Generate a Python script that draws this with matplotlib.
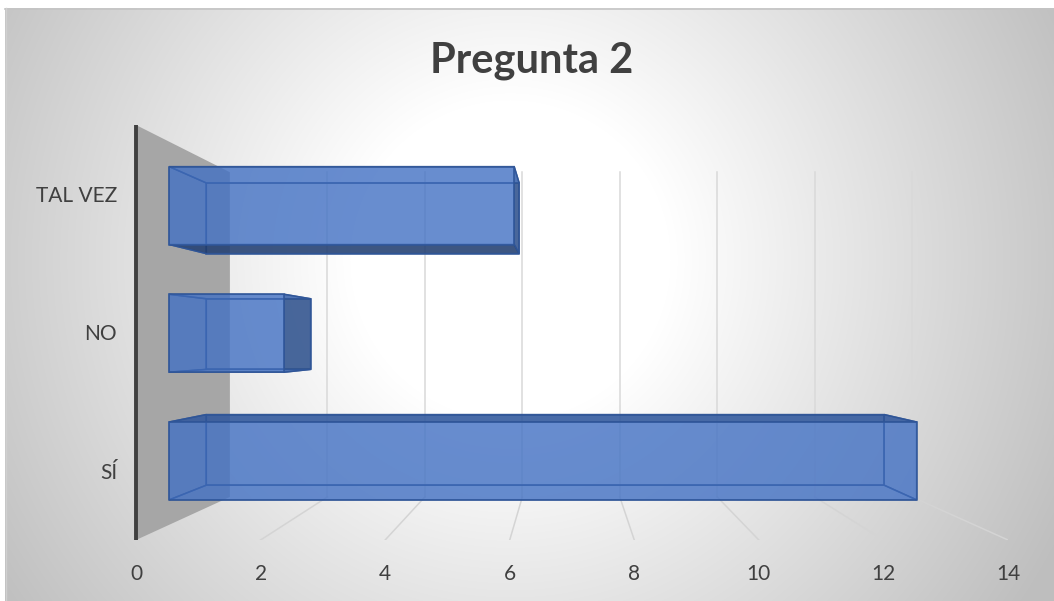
import numpy as np
import matplotlib.pyplot as plt
from matplotlib.patches import Polygon
import matplotlib.colors as mcolors

# ----------------------------------------------------------------
# chart data

title = 'Pregunta 2'
categories = ['SÍ', 'NO', 'TAL VEZ']
values = [13, 2, 6]
x_ticks = [0, 2, 4, 6, 8, 10, 12, 14]

# ----------------------------------------------------------------
# fake excel "3-D bar" look: front plane is the axes, depth goes back
# towards a vanishing point (in data units)

depth_c = 0.278
van_x, van_y = 6.93, 1.43
bar_h = 0.61
bar_z = (0.3, 0.7)

W, H = 1054, 601

plt.rcParams['font.family'] = ['Lato', 'DejaVu Sans']

def proj(x, y, z):
        k = 1.0 / (1.0 + depth_c * z)
        return (van_x + (x - van_x) * k, van_y + (y - van_y) * k)

fig = plt.figure(figsize=(W / 100, H / 100), dpi=100)

# background radial gradient
bg = fig.add_axes([0, 0, 1, 1])
yy, xx = np.mgrid[0:H, 0:W]
d = np.hypot(xx - 510, yy - 260)
g = (255 - 65 * np.clip((d - 160) / 460, 0, 1)) / 255.0
g[:8, :] = 1.0
g[:, :5] = 1.0
bg.imshow(np.dstack([g, g, g]), extent=(0, W, H, 0), interpolation='bilinear')
bg.plot([5, W], [8.5, 8.5], color='#c4c4c4', lw=1.2)
bg.plot([5.5, 5.5], [8, H], color='#d0d0d0', lw=1.0)
bg.set_xlim(0, W)
bg.set_ylim(H, 0)
bg.axis('off')

# main axes = front plane
ax = fig.add_axes([136 / W, (H - 540) / H, 872 / W, 415 / H])
ax.set_facecolor('none')
ax.set_xlim(0, 14)
ax.set_ylim(0, 3)
for s in ax.spines.values():
        s.set_visible(False)

ncat = len(categories)

# side wall
wall = [proj(0, 0, 0), proj(0, ncat, 0), proj(0, ncat, 1), proj(0, 0, 1)]
ax.add_patch(Polygon(wall, closed=True, facecolor='#a6a6a6', edgecolor='none', zorder=1))

# gridlines on back wall and floor
for v in x_ticks:
        if v == 0:
                continue
        p0, p1 = proj(v, 0, 1), proj(v, ncat, 1)
        ax.plot([p0[0], p1[0]], [p0[1], p1[1]], color='#d9d9d9', lw=1.1, zorder=2)
        f0 = proj(v, 0, 0)
        ax.plot([f0[0], p0[0]], [f0[1], p0[1]], color='#d4d4d4', lw=1.1, zorder=2)

# axis line
ax.plot([0, 0], [0, ncat], color='#404040', lw=2.8, zorder=3, solid_capstyle='butt', clip_on=False)

# bars (only faces turned to the viewer get the darker shade)
face_alpha = 0.56
side_alpha = 0.75
base = '#4472c4'
edge_col = mcolors.to_rgba('#2f5597', 0.9)
for i, v in enumerate(values):
        y0 = i + 0.5 - bar_h / 2
        y1 = i + 0.5 + bar_h / 2
        z0, z1 = bar_z
        right = ('#2f4f85', side_alpha) if v < van_x else (base, face_alpha)
        bottom = ('#1f3864', side_alpha) if y0 > van_y else (base, face_alpha)
        top = ('#2f5597', side_alpha) if y1 < van_y else (base, face_alpha)
        faces = [
                ((base, face_alpha), [(0, y0, z1), (v, y0, z1), (v, y1, z1), (0, y1, z1)]),   # back
                ((base, face_alpha), [(0, y0, z0), (0, y1, z0), (0, y1, z1), (0, y0, z1)]),   # left
                (right, [(v, y0, z0), (v, y1, z0), (v, y1, z1), (v, y0, z1)]),                # right
                (bottom, [(0, y0, z0), (v, y0, z0), (v, y0, z1), (0, y0, z1)]),               # bottom
                (top, [(0, y1, z0), (v, y1, z0), (v, y1, z1), (0, y1, z1)]),                  # top
                ((base, face_alpha), [(0, y0, z0), (v, y0, z0), (v, y1, z0), (0, y1, z0)]),   # front
        ]
        for (col, a), pts in faces:
                xy = [proj(*p) for p in pts]
                ax.add_patch(Polygon(xy, closed=True, facecolor=mcolors.to_rgba(col, a),
                                     edgecolor=edge_col, lw=1.1, joinstyle='miter', zorder=4))

# ticks / labels
ax.set_xticks(x_ticks)
ax.set_xticklabels([str(t) for t in x_ticks])
ax.set_yticks([i + 0.5 for i in range(ncat)])
ax.set_yticklabels(categories)
ax.tick_params(axis='x', length=0, pad=17, labelsize=15, labelcolor='#404040')
ax.tick_params(axis='y', length=0, pad=13.5, labelsize=15, labelcolor='#404040')

fig.text(532 / W, 1 - 73 / H, title, ha='center', va='baseline', fontsize=30,
         fontweight='bold', color='#404040')

fig.savefig('out.png', dpi=100)
